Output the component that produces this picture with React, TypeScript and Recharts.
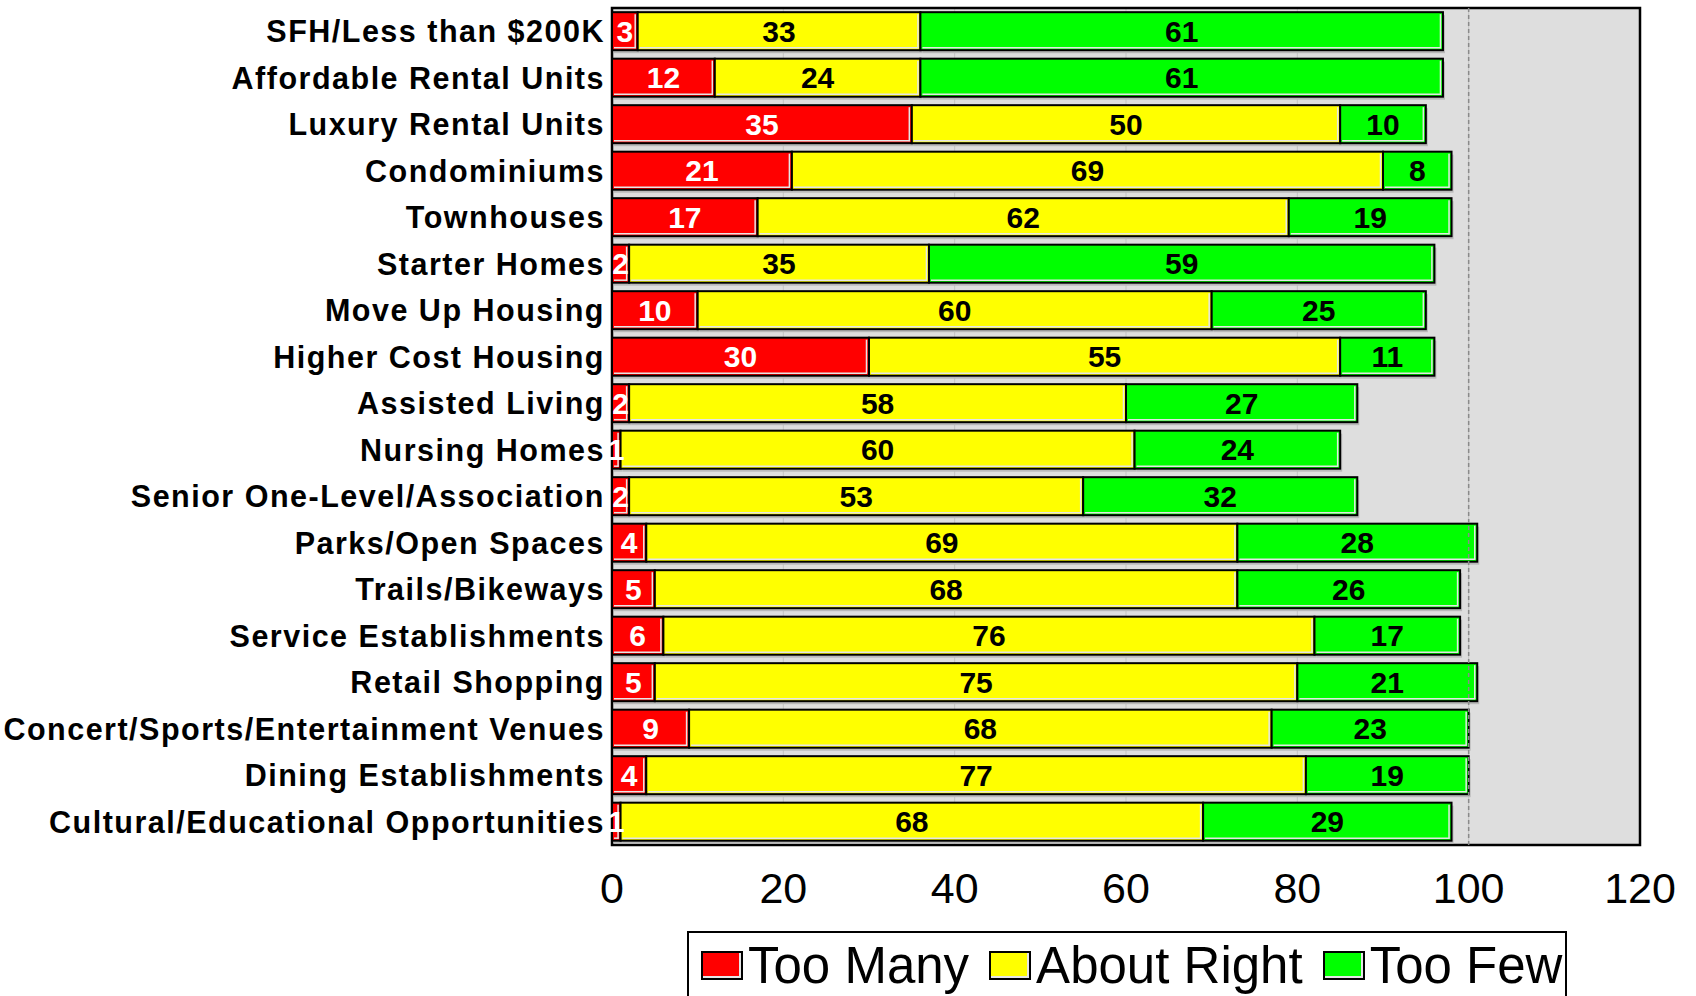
import React from 'react';
import {
  BarChart, Bar, XAxis, YAxis, CartesianGrid, ReferenceLine, ReferenceArea, LabelList,
} from 'recharts';

const categories = [
  'SFH/Less than $200K',
  'Affordable Rental Units',
  'Luxury Rental Units',
  'Condominiums',
  'Townhouses',
  'Starter Homes',
  'Move Up Housing',
  'Higher Cost Housing',
  'Assisted Living',
  'Nursing Homes',
  'Senior One-Level/Association',
  'Parks/Open Spaces',
  'Trails/Bikeways',
  'Service Establishments',
  'Retail Shopping',
  'Concert/Sports/Entertainment Venues',
  'Dining Establishments',
  'Cultural/Educational Opportunities',
];

const tooMany = [3, 12, 35, 21, 17, 2, 10, 30, 2, 1, 2, 4, 5, 6, 5, 9, 4, 1];
const aboutRight = [33, 24, 50, 69, 62, 35, 60, 55, 58, 60, 53, 69, 68, 76, 75, 68, 77, 68];
const tooFew = [61, 61, 10, 8, 19, 59, 25, 11, 27, 24, 32, 28, 26, 17, 21, 23, 19, 29];

const xTicks = [0, 20, 40, 60, 80, 100, 120];

const seriesNames = ['Too Many', 'About Right', 'Too Few'];
const seriesKeys = ['tooMany', 'aboutRight', 'tooFew'];
const seriesColors = ['#ff0000', '#ffff00', '#00ff00'];
const labelColors = ['#ffffff', '#000000', '#000000'];

const data = categories.map((c, i) => ({
  category: c,
  tooMany: tooMany[i],
  aboutRight: aboutRight[i],
  tooFew: tooFew[i],
}));

const FONT = '"Liberation Sans", Arial, sans-serif';

const BarShape = (props: any) => {
  const { x, y, width, height, fill } = props;
  if (width == null || height == null || width <= 0) return null;
  return (
    <g>
      <rect x={x + 2} y={y + 3} width={width} height={height} fill="#b9b9b9" />
      <rect x={x} y={y} width={width} height={height} fill={fill} stroke="#000" strokeWidth={2} />
      <line x1={x + 2} y1={y + height - 2.5} x2={x + width - 2} y2={y + height - 2.5} stroke="#e6e6e6" strokeWidth={1.5} />
      <line x1={x + width - 2.5} y1={y + 2} x2={x + width - 2.5} y2={y + height - 2} stroke="#e6e6e6" strokeWidth={1.5} />
    </g>
  );
};

const YTick = (props: any) => {
  const { y, payload } = props;
  return (
    <text x={605} y={y} dy="0.36em" textAnchor="end" fontFamily={FONT} fontWeight="bold" fontSize={30.5} letterSpacing={1.5} fill="#000">
      {payload.value}
    </text>
  );
};

const XTick = (props: any) => {
  const { x, payload } = props;
  return (
    <text x={x} y={872} dy="0.71em" textAnchor="middle" fontFamily={FONT} fontSize={43} fill="#000">
      {payload.value}
    </text>
  );
};

export default function App() {
  return (
    <div style={{ position: 'absolute', left: 0, top: 0, width: 1696, height: 996, background: '#fff', overflow: 'hidden' }}>
      <BarChart
        width={1696}
        height={996}
        data={data}
        layout="vertical"
        margin={{ top: 8, right: 56, left: 0, bottom: 91 }}
        barCategoryGap="9%"
      >
        <CartesianGrid horizontal={false} stroke="#c4c4c4" fill="#dedede" />
        <XAxis
          type="number"
          domain={[0, 120]}
          ticks={xTicks}
          axisLine={false}
          tickLine={false}
          tickSize={0}
          height={60}
          tick={<XTick />}
          interval={0}
        />
        <YAxis
          type="category"
          dataKey="category"
          width={612}
          axisLine={false}
          tickLine={false}
          tickSize={0}
          tick={<YTick />}
          interval={0}
        />
        <ReferenceLine x={100} stroke="#8a8a8a" strokeDasharray="4 3" strokeWidth={1.5} />
        {seriesKeys.map((k, i) => (
          <Bar
            key={k}
            dataKey={k}
            name={seriesNames[i]}
            stackId="s"
            fill={seriesColors[i]}
            shape={<BarShape />}
            isAnimationActive={false}
          >
            <LabelList
              dataKey={k}
              position="center"
              fill={labelColors[i]}
              fontFamily={FONT}
              fontWeight="bold"
              fontSize={30}
            />
          </Bar>
        ))}
        <ReferenceArea x1={0} x2={120} fill="none" stroke="#000" strokeWidth={2.5} fillOpacity={0} />
      </BarChart>
      <div
        style={{
          position: 'absolute',
          left: 687,
          top: 931,
          width: 880,
          height: 90,
          border: '2px solid #000',
          boxSizing: 'border-box',
          display: 'flex',
          alignItems: 'flex-start',
          fontFamily: FONT,
          fontSize: 51,
          lineHeight: '60px',
          paddingLeft: 12,
          paddingTop: 3,
          background: '#fff',
        }}
      >
        {seriesNames.map((n, i) => (
          <div key={n} style={{ display: 'flex', alignItems: 'flex-start', marginRight: 20 }}>
            <div
              style={{
                width: 42,
                height: 29,
                background: seriesColors[i],
                border: '2.5px solid #000',
                boxSizing: 'border-box',
                boxShadow: 'inset -2px -2px 0 #e6e6e6',
                marginRight: 5,
                marginTop: 15,
                flexShrink: 0,
              }}
            />
            <span style={{ whiteSpace: 'nowrap' }}>{n}</span>
          </div>
        ))}
      </div>
    </div>
  );
}
